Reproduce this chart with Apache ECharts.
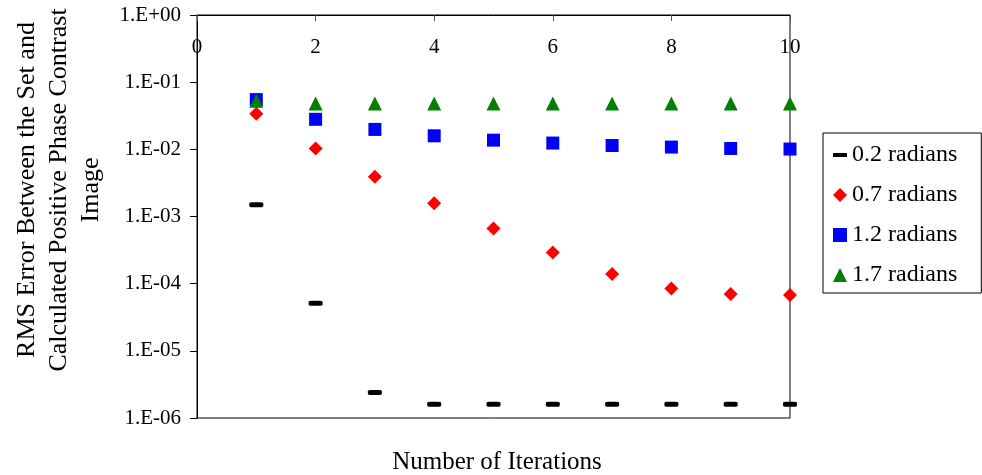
<!DOCTYPE html>
<html>
<head>
<meta charset="utf-8">
<script src="https://cdn.jsdelivr.net/npm/echarts@6/dist/echarts.min.js"></script>
<style>
  html, body { margin: 0; padding: 0; background: #fff; }
  #chart { width: 982px; height: 475px; }
</style>
</head>
<body>
<div id="chart"></div>
<script>
// Iteration numbers (x) and RMS error for each phase amplitude
const iterations = [1, 2, 3, 4, 5, 6, 7, 8, 9, 10];
const rad02 = [1.5e-3, 5.1e-5, 2.4e-6, 1.6e-6, 1.6e-6, 1.6e-6, 1.6e-6, 1.6e-6, 1.6e-6, 1.6e-6];
const rad07 = [0.034, 0.0103, 3.9e-3, 1.58e-3, 6.6e-4, 2.9e-4, 1.39e-4, 8.5e-5, 7.0e-5, 6.8e-5];
const rad12 = [0.055, 0.028, 0.0198, 0.0159, 0.0137, 0.0124, 0.0114, 0.0108, 0.0103, 0.0101];
const rad17 = [0.053, 0.048, 0.048, 0.048, 0.048, 0.048, 0.048, 0.048, 0.048, 0.048];
const seriesNames = ['0.2 radians', '0.7 radians', '1.2 radians', '1.7 radians'];
const xTicks = [0, 2, 4, 6, 8, 10];
const yRange = [1e-6, 1];

const FONT = '"Liberation Serif", "Times New Roman", serif';
const pairs = ys => iterations.map((x, i) => [x, ys[i]]);

function sciLabel(v) {
  const e = Math.round(Math.log10(v));
  const s = String(Math.abs(e)).padStart(2, '0');
  return '1.E' + (e < 0 ? '-' : '+') + s;
}

const chart = echarts.init(document.getElementById('chart'), null, { renderer: 'canvas' });

const dashIcon = 'path://M0,0 M14,14 M0,5 L14,5 L14,9 L0,9 Z';

chart.setOption({
  animation: false,
  backgroundColor: '#fff',
  grid: {
    left: 197, right: 192, top: 15, bottom: 57,
    show: true, borderColor: '#000', borderWidth: 1, backgroundColor: 'transparent'
  },
  xAxis: {
    type: 'value',
    position: 'top',
    min: xTicks[0], max: xTicks[xTicks.length - 1], interval: 2,
    axisLine: { show: true, lineStyle: { color: '#000', width: 1 } },
    axisTick: { show: true, inside: true, length: 6, lineStyle: { color: '#555' } },
    axisLabel: {
      inside: true, margin: 22, color: '#000', fontSize: 21, fontFamily: FONT
    },
    splitLine: { show: false }
  },
  yAxis: {
    type: 'log',
    logBase: 10,
    min: yRange[0], max: yRange[1],
    axisLine: { show: true, lineStyle: { color: '#000', width: 1 } },
    axisTick: { show: true, length: 7, lineStyle: { color: '#000' } },
    axisLabel: {
      margin: 16, color: '#000', fontSize: 21, fontFamily: FONT,
      formatter: sciLabel
    },
    splitLine: { show: false },
    minorTick: { show: false }
  },
  legend: {
    orient: 'vertical',
    left: 823, top: 133,
    padding: [10, 24, 6, 10],
    itemGap: 16,
    itemWidth: 14, itemHeight: 14,
    borderColor: '#000', borderWidth: 1,
    textStyle: { fontSize: 24, color: '#000', fontFamily: FONT },
    data: [
      { name: seriesNames[0], icon: dashIcon },
      { name: seriesNames[1] },
      { name: seriesNames[2] },
      { name: seriesNames[3] }
    ]
  },
  graphic: [
    {
      type: 'text',
      x: 59, y: 190,
      rotation: Math.PI / 2,
      style: {
        text: 'RMS Error Between the Set and\nCalculated Positive Phase Contrast\nImage',
        font: '26px ' + FONT,
        lineHeight: 32,
        fill: '#000',
        align: 'center',
        verticalAlign: 'middle'
      }
    },
    {
      type: 'text',
      x: 497, y: 462,
      style: {
        text: 'Number of Iterations',
        font: '25px ' + FONT,
        fill: '#000',
        align: 'center',
        verticalAlign: 'middle'
      }
    }
  ],
  series: [
    {
      name: seriesNames[0], type: 'scatter', data: pairs(rad02),
      symbol: 'roundRect', symbolSize: [14, 5],
      itemStyle: { color: '#000', opacity: 1 }
    },
    {
      name: seriesNames[1], type: 'scatter', data: pairs(rad07),
      symbol: 'diamond', symbolSize: 14,
      itemStyle: { color: '#FF0000', opacity: 1 }
    },
    {
      name: seriesNames[2], type: 'scatter', data: pairs(rad12),
      symbol: 'rect', symbolSize: 13,
      itemStyle: { color: '#0000FF', opacity: 1 }
    },
    {
      name: seriesNames[3], type: 'scatter', data: pairs(rad17),
      symbol: 'triangle', symbolSize: 14,
      itemStyle: { color: '#008000', opacity: 1 }
    }
  ]
});
</script>
</body>
</html>
